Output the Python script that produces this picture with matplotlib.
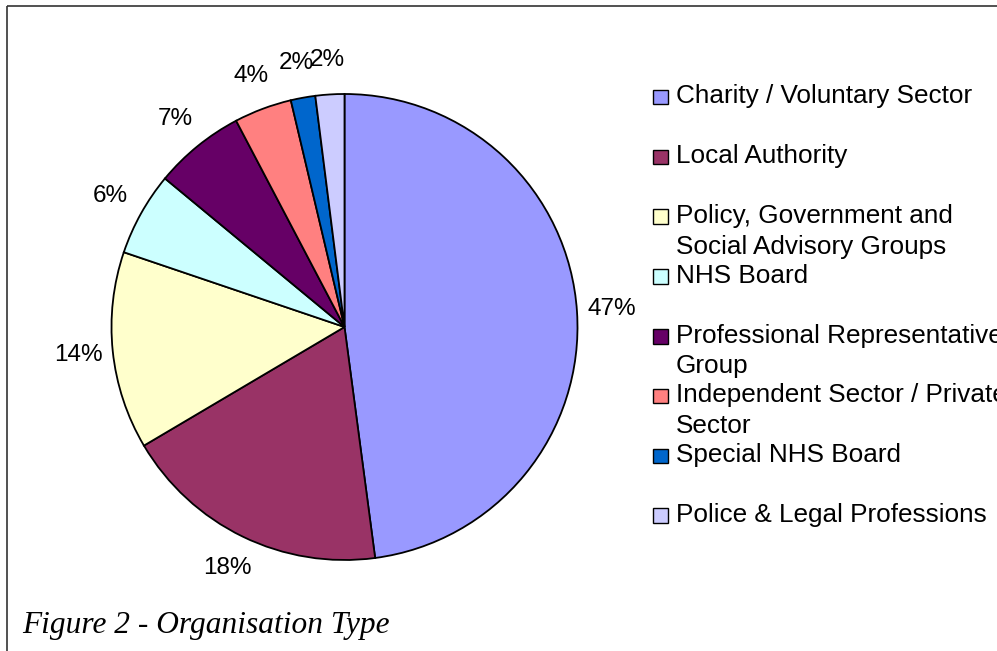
import matplotlib
matplotlib.use("Agg")
import matplotlib.pyplot as plt
from matplotlib.patches import Rectangle
import numpy as np

# ---- data ----
categories = [
    "Charity / Voluntary Sector",
    "Local Authority",
    "Policy, Government and\nSocial Advisory Groups",
    "NHS Board",
    "Professional Representative\nGroup",
    "Independent Sector / Private\nSector",
    "Special NHS Board",
    "Police & Legal Professions",
]
values = [47.9, 18.6, 13.7, 5.8, 6.3, 4.0, 1.7, 2.0]
pct_labels = ["47%", "18%", "14%", "6%", "7%", "4%", "2%", "2%"]
colors = ["#9999FF", "#993366", "#FFFFCC", "#CCFFFF",
          "#660066", "#FF8080", "#0066CC", "#CCCCFF"]
title = "Figure 2 - Organisation Type"

W, H = 997, 651
fig = plt.figure(figsize=(W / 100, H / 100), dpi=100)
ax = fig.add_axes([0, 0, 1, 1])

cx, cy, R = 344.5, H - 327, 233
wedges, _ = ax.pie(values, colors=colors, startangle=90, counterclock=False,
                   center=(cx, cy), radius=R,
                   wedgeprops=dict(edgecolor="black", linewidth=1.3))
ax.set_xlim(0, W)
ax.set_ylim(0, H)
ax.set_aspect("equal")
ax.axis("off")

# percentage labels outside the pie
for w, lab in zip(wedges, pct_labels):
    mid = np.deg2rad((w.theta1 + w.theta2) / 2)
    d = 1.15 * R
    ax.text(cx + d * np.cos(mid), cy + d * np.sin(mid), lab,
            ha="center", va="center", fontsize=17.5,
            family="Liberation Sans", color="black")

# legend (manual, Excel-like)
base0, step, line_h = 103.3, 59.8, 31.0
for i, (cat, col) in enumerate(zip(categories, colors)):
    yb = H - (base0 + step * i)
    ax.add_patch(Rectangle((653, yb - 1), 14.5, 14.5, facecolor=col,
                           edgecolor="black", linewidth=1.0, clip_on=False))
    for k, line in enumerate(cat.split("\n")):
        ax.text(676, yb - line_h * k, line, ha="left", va="baseline",
                fontsize=18.8, family="Liberation Sans", color="black",
                clip_on=False)

# figure caption
ax.text(21.7, H - 633, title, ha="left", va="baseline", fontsize=22.6,
        family="Liberation Serif", style="italic", color="black")

# frame lines (left and top)
ax.plot([6.7, 6.7], [0, H - 5.7], color="#333333", lw=1.2, clip_on=False,
        solid_capstyle="butt")
ax.plot([6.7, W], [H - 5.7, H - 5.7], color="#333333", lw=1.2, clip_on=False,
        solid_capstyle="butt")

fig.savefig("out.png", dpi=100)
